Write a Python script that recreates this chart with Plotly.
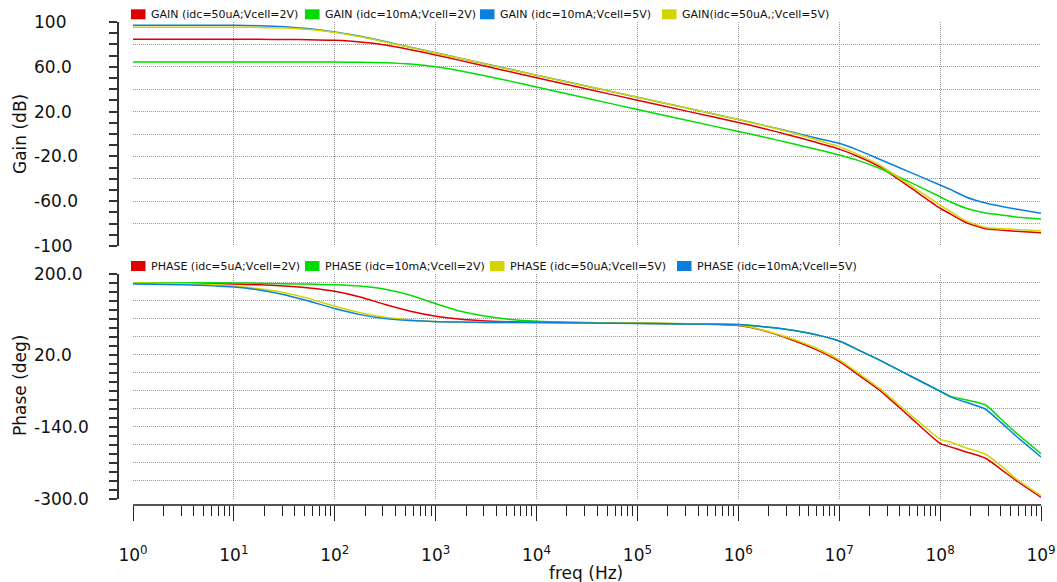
import plotly.graph_objects as go

# ---------------- data ----------------
freq_hz = [1, 3.16, 10, 17.8, 31.6, 56.2, 100, 178, 316, 562,
           1e3, 1.78e3, 3.16e3, 5.62e3, 1e4, 3.16e4, 1e5, 3.16e5, 1e6, 1.78e6,
           3.16e6, 5.62e6, 1e7, 1.58e7, 2.51e7, 5.01e7, 1e8, 1.26e8, 1.78e8, 2.82e8,
           3.98e8, 5.62e8, 1e9]

gain_50uA_2V = [84.5, 84.5, 84.5, 84.5, 84.4, 84.2, 83.6, 82.2, 79.5, 75.3,
                70.5, 65.5, 60.4, 55.3, 50.2, 40.2, 30.1, 20.2, 10.3, 5.0,
                -0.8, -7.0, -13.5, -20.5, -29.2, -47.5, -66.3, -71.3, -78.8, -84.6,
                -85.8, -86.8, -88.1]
gain_10mA_2V = [64.3, 64.3, 64.3, 64.3, 64.3, 64.3, 64.2, 64.1, 63.6, 62.4,
                60.1, 56.3, 51.8, 47.0, 42.0, 32.0, 21.8, 12.0, 2.3, -2.6,
                -7.9, -13.2, -18.8, -24.0, -30.6, -43.0, -56.0, -60.5, -66.0, -70.5,
                -72.3, -74.0, -75.9]
gain_10mA_5V = [97.0, 97.0, 97.0, 96.7, 95.8, 93.9, 91.0, 87.2, 82.5, 77.5,
                72.5, 67.5, 62.5, 57.5, 52.5, 42.7, 32.9, 23.0, 13.0, 7.7,
                2.4, -3.2, -8.3, -14.8, -22.6, -34.0, -45.5, -49.5, -56.0, -61.7,
                -64.5, -67.0, -70.8]
gain_50uA_5V = [95.3, 95.3, 95.3, 95.2, 94.6, 93.2, 90.6, 86.8, 82.2, 77.3,
                72.4, 67.4, 62.4, 57.4, 52.4, 42.6, 32.8, 22.9, 12.9, 7.6,
                2.0, -4.5, -11.3, -18.8, -27.7, -45.5, -63.4, -69.0, -77.3, -83.4,
                -84.5, -85.3, -86.3]

phase_5uA_2V = [180, 179.5, 177.5, 176, 173.3, 168.9, 161.5, 149, 132, 117,
                106, 99.3, 95.6, 93.5, 92.6, 91.5, 90.4, 89, 85.5, 74,
                56, 34, 5.5, -26, -58.4, -118, -177, -184.6, -195.4, -210,
                -234, -259, -297]
phase_10mA_2V = [180.5, 180.5, 180, 179.5, 178.5, 177.5, 176.3, 173.3, 166, 152.6,
                 134, 117, 106, 98.5, 94.8, 92, 90.4, 89.3, 87.4, 82.5,
                 76, 66, 51, 30, 8.5, -26.4, -60.6, -71.7, -80, -91.5,
                 -122, -153, -200]
phase_50uA_5V = [180, 179, 173.3, 167, 158.5, 145.2, 128.1, 114, 103.7, 97.8,
                 94.5, 93, 92.3, 92, 91.8, 91, 90.4, 89.5, 86.5, 75,
                 58, 37, 9, -22, -54.6, -112, -167.5, -174, -186.5, -201,
                 -226, -255, -293]
phase_10mA_5V = [178, 176.3, 171, 164.4, 154, 139.3, 123, 109.6, 100.7, 96.3,
                 94, 93, 92.3, 92, 91.9, 90.8, 89.6, 88.8, 87.4, 82.5,
                 76, 66, 51, 30, 8.5, -26.4, -61, -73.3, -85, -101,
                 -129.7, -160, -207]

gain_names = ["GAIN (idc=50uA;Vcell=2V)", "GAIN (idc=10mA;Vcell=2V)",
              "GAIN (idc=10mA;Vcell=5V)", "GAIN(idc=50uA,;Vcell=5V)"]
phase_names = ["PHASE (idc=5uA;Vcell=2V)", "PHASE (idc=10mA;Vcell=2V)",
               "PHASE (idc=50uA;Vcell=5V)", "PHASE (idc=10mA;Vcell=5V)"]

gain_series = [gain_50uA_2V, gain_10mA_2V, gain_10mA_5V, gain_50uA_5V]
phase_series = [phase_5uA_2V, phase_10mA_2V, phase_50uA_5V, phase_10mA_5V]

x_tick_vals = [1, 10, 100, 1e3, 1e4, 1e5, 1e6, 1e7, 1e8, 1e9]
x_tick_text = ["10<sup>%d</sup>" % k for k in range(10)]
gain_label_vals = [100, 60, 20, -20, -60, -100]
gain_label_text = ["100", "60.0", "20.0", "-20.0", "-60.0", "-100"]
phase_label_vals = [200, 20, -140, -300]
phase_label_text = ["200.0", "20.0", "-140.0", "-300.0"]

# ---------------- styles ----------------
RED, GREEN, BLUE, YELLOW = "#e00000", "#00dd00", "#0a7fdc", "#d4d400"
gain_colors = [RED, GREEN, BLUE, YELLOW]
phase_colors = [RED, GREEN, YELLOW, BLUE]
FONT = "DejaVu Sans"
GRID = "#9a9a9a"

W, H = 1057, 582
ML, MR, MT, MB = 118, 16, 22, 77
PW = W - ML - MR
PH = H - MT - MB


def px_x(px):
    return (px - ML) / PW


def px_y(py):
    return (H - MB - py) / PH


fig = go.Figure()
for name, vals, col in zip(gain_names, gain_series, gain_colors):
    fig.add_trace(go.Scatter(x=freq_hz, y=vals, name=name, mode="lines",
                             line=dict(color=col, width=1.5, shape="spline", smoothing=0.6),
                             xaxis="x", yaxis="y", showlegend=False, hoverinfo="skip"))
for name, vals, col in zip(phase_names, phase_series, phase_colors):
    fig.add_trace(go.Scatter(x=freq_hz, y=vals, name=name, mode="lines",
                             line=dict(color=col, width=1.5, shape="spline", smoothing=0.6),
                             xaxis="x2", yaxis="y2", showlegend=False, hoverinfo="skip"))

xdom = [px_x(133), px_x(1041)]
grid_common = dict(showgrid=True, gridcolor=GRID, griddash="1px,1px", gridwidth=1,
                   zeroline=False, automargin=False)

fig.update_layout(
    width=W, height=H, autosize=False,
    margin=dict(l=ML, r=MR, t=MT, b=MB, pad=0, autoexpand=False),
    paper_bgcolor="white", plot_bgcolor="white",
    font=dict(family=FONT, size=17, color="#111"),
    showlegend=False,
    xaxis=dict(domain=xdom, type="log", range=[0, 9], anchor="y",
               showline=False, ticks="", showticklabels=False,
               tickmode="array", tickvals=x_tick_vals, **grid_common),
    xaxis2=dict(domain=xdom, type="log", range=[0, 9], anchor="free", position=0,
                showline=True, linecolor="#555", linewidth=1.5,
                ticks="outside", ticklen=15, tickwidth=1, tickcolor="#222",
                tickmode="array", tickvals=x_tick_vals, ticktext=x_tick_text,
                tickfont=dict(family=FONT, size=17, color="#111"),
                ticklabelstandoff=20,
                minor=dict(tickvals=[m * 10 ** k for k in range(9) for m in range(2, 10)],
                           ticks="outside", ticklen=10, tickwidth=1, tickcolor="#222",
                           showgrid=False),
                **grid_common),
    yaxis=dict(domain=[px_y(246), px_y(22)], range=[-100, 100], anchor="free", position=0,
               showline=True, linecolor="#333", linewidth=1.5,
               ticks="outside", ticklen=8, tickwidth=1.5, tickcolor="#333",
               tickmode="array", tickvals=list(range(-100, 101, 20)),
               showticklabels=False,
               minor=dict(tickvals=list(range(-90, 100, 20)), ticks="outside", ticklen=8,
                          tickwidth=1.5, tickcolor="#333", showgrid=False),
               **grid_common),
    yaxis2=dict(domain=[px_y(498.7), px_y(274)], range=[-300, 200], anchor="free", position=0,
                showline=True, linecolor="#333", linewidth=1.5,
                ticks="outside", ticklen=8, tickwidth=1.5, tickcolor="#333",
                tickmode="array", tickvals=list(range(-300, 181, 40)),
                showticklabels=False,
                minor=dict(tickvals=list(range(-280, 201, 40)), ticks="outside", ticklen=8,
                           tickwidth=1.5, tickcolor="#333", showgrid=False),
                **grid_common),
)

annotations = []
shapes = []
# y tick labels (left aligned like the reference)
for v, t in zip(gain_label_vals, gain_label_text):
    annotations.append(dict(text=t, x=px_x(32), xref="paper", y=v, yref="y",
                            xanchor="left", yanchor="middle", showarrow=False,
                            font=dict(family=FONT, size=17, color="#111")))
for v, t in zip(phase_label_vals, phase_label_text):
    annotations.append(dict(text=t, x=px_x(32), xref="paper", y=v, yref="y2",
                            xanchor="left", yanchor="middle", showarrow=False,
                            font=dict(family=FONT, size=17, color="#111")))
# axis titles
annotations.append(dict(text="Gain (dB)", x=px_x(20), xref="paper", y=px_y(134), yref="paper",
                        textangle=-90, xanchor="center", yanchor="middle", showarrow=False,
                        font=dict(family=FONT, size=17, color="#111")))
annotations.append(dict(text="Phase (deg)", x=px_x(20), xref="paper", y=px_y(386), yref="paper",
                        textangle=-90, xanchor="center", yanchor="middle", showarrow=False,
                        font=dict(family=FONT, size=17, color="#111")))
annotations.append(dict(text="freq (Hz)", x=px_x(586), xref="paper", y=px_y(573), yref="paper",
                        xanchor="center", yanchor="middle", showarrow=False,
                        font=dict(family=FONT, size=17, color="#111")))

# legends (swatch + text)
top_leg_x = [131, 305, 480, 662]
bot_leg_x = [131, 305, 490, 677]
for names, cols, xs, yc in [(gain_names, gain_colors, top_leg_x, 14.3),
                            (phase_names, phase_colors, bot_leg_x, 266)]:
    for name, col, x0 in zip(names, cols, xs):
        shapes.append(dict(type="rect", xref="paper", yref="paper",
                           x0=px_x(x0), x1=px_x(x0 + 14.5), y0=px_y(yc + 5), y1=px_y(yc - 5),
                           fillcolor=col, line=dict(width=0)))
        annotations.append(dict(text=name, x=px_x(x0 + 17.5), xref="paper", y=px_y(yc), yref="paper",
                                xanchor="left", yanchor="middle", showarrow=False,
                                font=dict(family=FONT, size=11, color="#111")))

fig.update_layout(annotations=annotations, shapes=shapes)
fig.write_html("out.html", config={"displayModeBar": False},
               post_script="document.body.style.margin='0';document.body.style.overflow='hidden';")
